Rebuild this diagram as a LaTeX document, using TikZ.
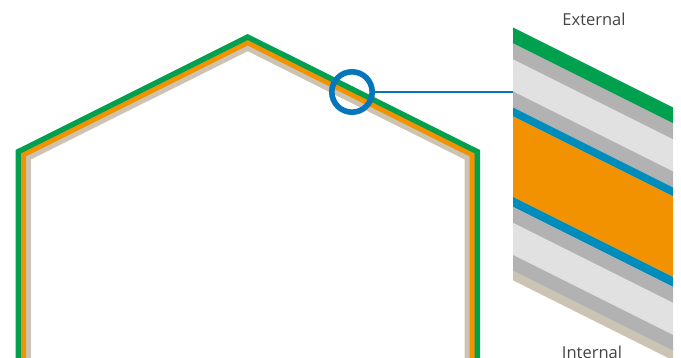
\documentclass[tikz,border=0pt]{standalone}
\usepackage{fontspec}
\setmainfont{Open Sans}
\definecolor{cgreen}{HTML}{00A04F}
\definecolor{cgray}{HTML}{B2B2B2}
\definecolor{clight}{HTML}{E1E1E1}
\definecolor{cblue}{HTML}{008DBB}
\definecolor{corange}{HTML}{F39200}
\definecolor{ctan}{HTML}{CBC4B3}
\definecolor{cring}{HTML}{0575BC}
\definecolor{ctext}{HTML}{444444}
\newcommand{\hexlayer}[4]{\fill[#1] (#2,360) -- (#2,#3) -- (247.7,#4) -- ({495.5-#2},#3) -- ({495.5-#2},360) -- cycle;}
\newcommand{\band}[3]{\fill[#1] (513,#2) -- (673,{#2+80}) -- (673,{#3+80}) -- (513,#3) -- cycle;}
\tikzset{
  ringnode/.style={circle,draw=cring,line width=5.6pt,minimum size=40.4pt,inner sep=0pt},
  leadline/.style={color=cring,line width=2pt},
  caption/.style={text=ctext,font=\fontsize{16.5}{20}\selectfont,inner sep=0pt}
}
\begin{document}
\begin{tikzpicture}[x=1pt,y=-1pt]
\path[use as bounding box,clip] (0,0) rectangle (681,358);
\fill[white] (0,0) rectangle (681,358);
% hexagonal wall
\hexlayer{cgreen}{15.5}{150}{34}
\hexlayer{corange}{21}{153.4}{40.2}
\hexlayer{ctan}{26}{156.5}{45.7}
\hexlayer{white}{31}{159.6}{51.3}
% layered detail
\band{cgreen}{27.5}{43.5}
\band{cgray}{43.5}{59.5}
\band{clight}{59.5}{91.5}
\band{cgray}{91.5}{107.5}
\band{cblue}{107.5}{116.5}
\band{corange}{116.5}{197}
\band{cblue}{197}{207}
\band{cgray}{207}{223}
\band{clight}{223}{255}
\band{cgray}{255}{271}
\band{ctan}{271}{280.3}
% callout
\coordinate (port) at (513,92);
\node[ringnode] (ring) at (352,92) {};
\draw[leadline] (ring.east) -- (port);
% captions
\node[caption] (ext) at (594,19.5) {External};
\node[caption] (int) at (592,352) {Internal};
\end{tikzpicture}
\end{document}
